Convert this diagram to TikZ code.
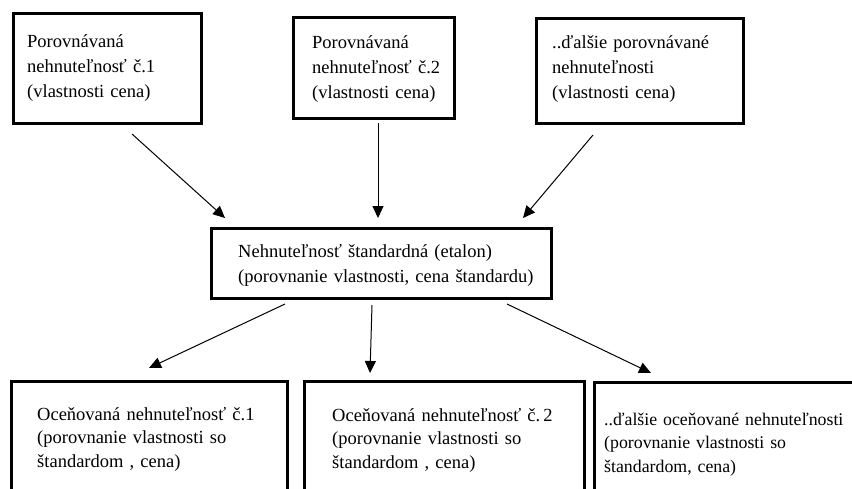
\documentclass[tikz,border=0pt]{standalone}
\usepackage{fontspec}
\setmainfont{Liberation Serif}
\usetikzlibrary{arrows.meta}
\tikzset{
  box/.style={draw=black, line width=3pt, anchor=north west, inner sep=0pt},
  txt/.style={anchor=base west, inner sep=0pt, text width=320pt, align=left,
    font=\fontsize{18.5}{25}\selectfont},
  txtb/.style={txt, font=\fontsize{18.5}{23.5}\selectfont},
  arr/.style={draw=black, line width=1pt, -{Triangle[length=12pt,width=11pt]}}
}
\begin{document}
\begin{tikzpicture}[x=1pt,y=-1pt]
\useasboundingbox (0,0) rectangle (852,488);
% boxes
\node[box, minimum width=188pt, minimum height=110pt] (b1) at (12,12) {};
\node[box, minimum width=161pt, minimum height=101pt] (b2) at (292,16) {};
\node[box, minimum width=207pt, minimum height=105pt] (b3) at (535,17) {};
\node[box, minimum width=340pt, minimum height=70pt] (c) at (210,227) {};
\node[box, minimum width=276pt, minimum height=125pt] (b4) at (10,380) {};
\node[box, minimum width=280pt, minimum height=125pt] (b5) at (303,380) {};
\node[box, minimum width=275pt, minimum height=125pt] (b6) at (593,381) {};
% texts
\node[txt] (t1) at (27,47) {Porovnávaná\\nehnuteľnosť č.1\\(vlastnosti cena)};
\node[txt] (t2) at (312,48) {Porovnávaná\\nehnuteľnosť č.2\\(vlastnosti cena)};
\node[txt] (t3) at (552,48) {..ďalšie porovnávané\\nehnuteľnosti\\(vlastnosti cena)};
\node[txt] (tc) at (238,257) {Nehnuteľnosť štandardná (etalon)\\(porovnanie vlastnosti, cena štandardu)};
\node[txtb] (t4) at (37,420) {Oceňovaná nehnuteľnosť č.1\\(porovnanie vlastnosti so\\štandardom , cena)};
\node[txtb] (t5) at (332,421) {Oceňovaná nehnuteľnosť č.\,2\\(porovnanie vlastnosti so\\štandardom , cena)};
\node[txtb, font=\fontsize{17.8}{23.5}\selectfont] (t6) at (604,425) {..ďalšie oceňované nehnuteľnosti\\(porovnanie vlastnosti so\\štandardom, cena)};
% connector end points
\coordinate (a1s) at (132,134); \coordinate (a1e) at (225,218);
\coordinate (a2s) at (378,123); \coordinate (a2e) at (378,218);
\coordinate (a3s) at (593,135); \coordinate (a3e) at (523,218);
\coordinate (a4s) at (285,304); \coordinate (a4e) at (149,368);
\coordinate (a5s) at (372,305); \coordinate (a5e) at (370,373);
\coordinate (a6s) at (507,304); \coordinate (a6e) at (651,373);
\draw[arr] (a1s) -- (a1e);
\draw[arr] (a2s) -- (a2e);
\draw[arr] (a3s) -- (a3e);
\draw[arr] (a4s) -- (a4e);
\draw[arr] (a5s) -- (a5e);
\draw[arr] (a6s) -- (a6e);
\end{tikzpicture}
\end{document}
